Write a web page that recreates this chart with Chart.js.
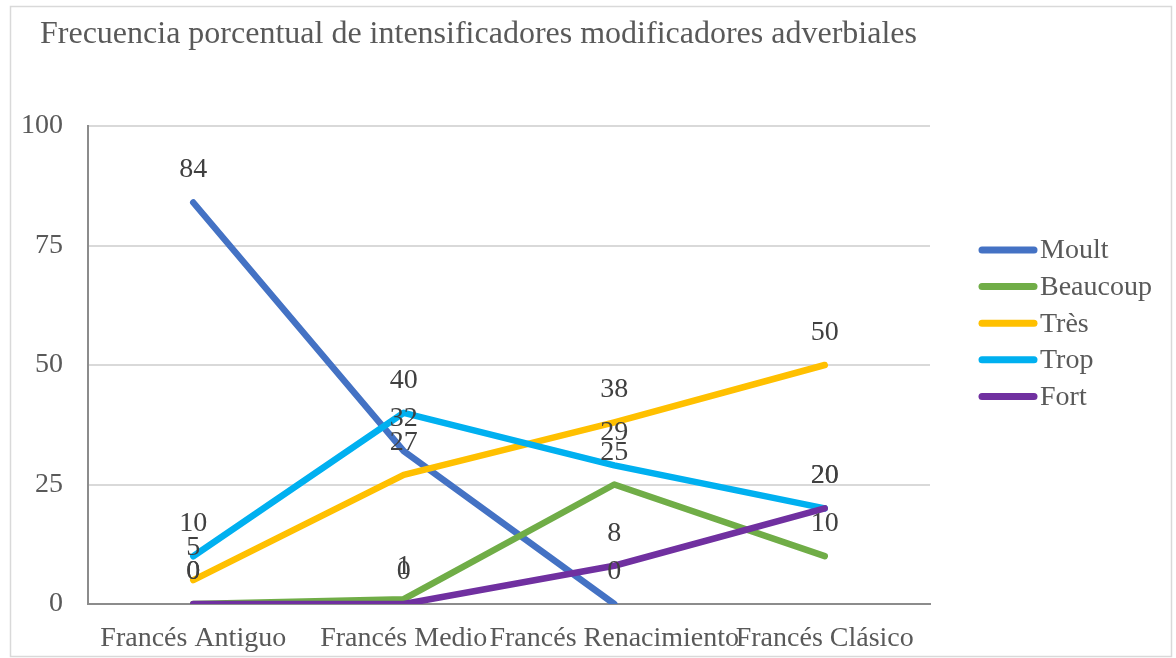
<!DOCTYPE html>
<html>
<head>
<meta charset="utf-8">
<script src="https://cdn.jsdelivr.net/npm/chart.js@4.4.1/dist/chart.umd.min.js"></script>
<style>
  html, body { margin: 0; padding: 0; background: #fff; }
  #wrap { width: 1176px; height: 658px; position: relative; }
</style>
</head>
<body>
<div id="wrap"><canvas id="chart"></canvas></div>
<script>
const TITLE = 'Frecuencia porcentual de intensificadores modificadores adverbiales';
const categories = ['Francés Antiguo', 'Francés Medio', 'Francés Renacimiento', 'Francés Clásico'];
const seriesNames = ['Moult', 'Beaucoup', 'Très', 'Trop', 'Fort'];
const moult = [84, 32, 0, null];
const beaucoup = [0, 1, 25, 10];
const tres = [5, 27, 38, 50];
const trop = [10, 40, 29, 20];
const fort = [0, 0, 8, 20];
const yTicks = [0, 25, 50, 75, 100];
const seriesColors = ['#4472c4', '#70ad47', '#ffc000', '#00b0f0', '#7030a0'];

const FONT = '"Liberation Serif", "Times New Roman", serif';
const TEXT_GREY = '#595959';

// white background, light frame and the title, drawn before everything else
const framePlugin = {
  id: 'frame',
  beforeDraw(chart) {
    const { ctx } = chart;
    ctx.save();
    ctx.fillStyle = '#ffffff';
    ctx.fillRect(0, 0, chart.width, chart.height);
    ctx.strokeStyle = '#d9d9d9';
    ctx.lineWidth = 1.5;
    ctx.strokeRect(10.5, 6.5, 1161, 650);
    ctx.fillStyle = TEXT_GREY;
    ctx.font = `32px ${FONT}`;
    ctx.textAlign = 'left';
    ctx.textBaseline = 'alphabetic';
    ctx.fillText(TITLE, 40, 43);
    ctx.restore();
  },
};

// value labels above each point, like Excel's "above" position
const valueLabels = {
  id: 'valueLabels',
  afterDatasetsDraw(chart) {
    const { ctx } = chart;
    ctx.save();
    ctx.font = `28px ${FONT}`;
    ctx.fillStyle = '#404040';
    ctx.textAlign = 'center';
    ctx.textBaseline = 'alphabetic';
    chart.data.datasets.forEach((ds, i) => {
      const meta = chart.getDatasetMeta(i);
      meta.data.forEach((pt, j) => {
        const v = ds.data[j];
        if (v === null || v === undefined) return;
        ctx.fillText(String(v), pt.x, pt.y - 25);
      });
    });
    ctx.restore();
  },
};

// legend on the right, line swatches with round caps
const sideLegend = {
  id: 'sideLegend',
  afterDraw(chart) {
    const { ctx } = chart;
    const x0 = 982, x1 = 1034, top = 250, step = 36.6;
    ctx.save();
    ctx.font = `28px ${FONT}`;
    ctx.textAlign = 'left';
    ctx.textBaseline = 'middle';
    chart.data.datasets.forEach((ds, i) => {
      const y = top + i * step;
      ctx.strokeStyle = ds.borderColor;
      ctx.lineWidth = 7;
      ctx.lineCap = 'round';
      ctx.beginPath();
      ctx.moveTo(x0, y);
      ctx.lineTo(x1, y);
      ctx.stroke();
      ctx.fillStyle = TEXT_GREY;
      ctx.fillText(ds.label, 1040, y + 1);
    });
    ctx.restore();
  },
};

const seriesValues = [moult, beaucoup, tres, trop, fort];
const datasets = seriesNames.map((name, i) => ({
  label: name,
  data: seriesValues[i],
  borderColor: seriesColors[i],
  backgroundColor: seriesColors[i],
  borderWidth: 6.5,
  borderCapStyle: 'round',
  borderJoinStyle: 'round',
  pointRadius: 0,
  pointHoverRadius: 0,
  tension: 0,
  spanGaps: false,
  // later series sit on top, as in the original
  order: seriesNames.length - i,
}));

new Chart(document.getElementById('chart'), {
  type: 'line',
  data: { labels: categories, datasets },
  options: {
    responsive: true,
    maintainAspectRatio: false,
    animation: false,
    layout: { padding: { top: 126, left: 10, right: 246, bottom: 0 } },
    plugins: {
      legend: { display: false },
      title: { display: false },
      tooltip: { enabled: false },
    },
    scales: {
      x: {
        offset: true,
        grid: { display: false, drawTicks: false },
        border: { display: true, color: '#8c8c8c', width: 2 },
        ticks: {
          color: TEXT_GREY,
          font: { family: FONT, size: 28 },
          padding: 18,
          maxRotation: 0,
          autoSkip: false,
        },
        afterFit: (scale) => { scale.height = 54; },
      },
      y: {
        min: 0,
        max: 100,
        afterBuildTicks: (scale) => { scale.ticks = yTicks.map((v) => ({ value: v })); },
        grid: { color: '#d9d9d9', lineWidth: 2, drawTicks: false },
        border: { display: true, color: '#8c8c8c', width: 2 },
        ticks: {
          color: TEXT_GREY,
          font: { family: FONT, size: 28 },
          padding: 25,
        },
        afterFit: (scale) => { scale.width = 78; },
      },
    },
  },
  plugins: [framePlugin, valueLabels, sideLegend],
});
</script>
</body>
</html>
